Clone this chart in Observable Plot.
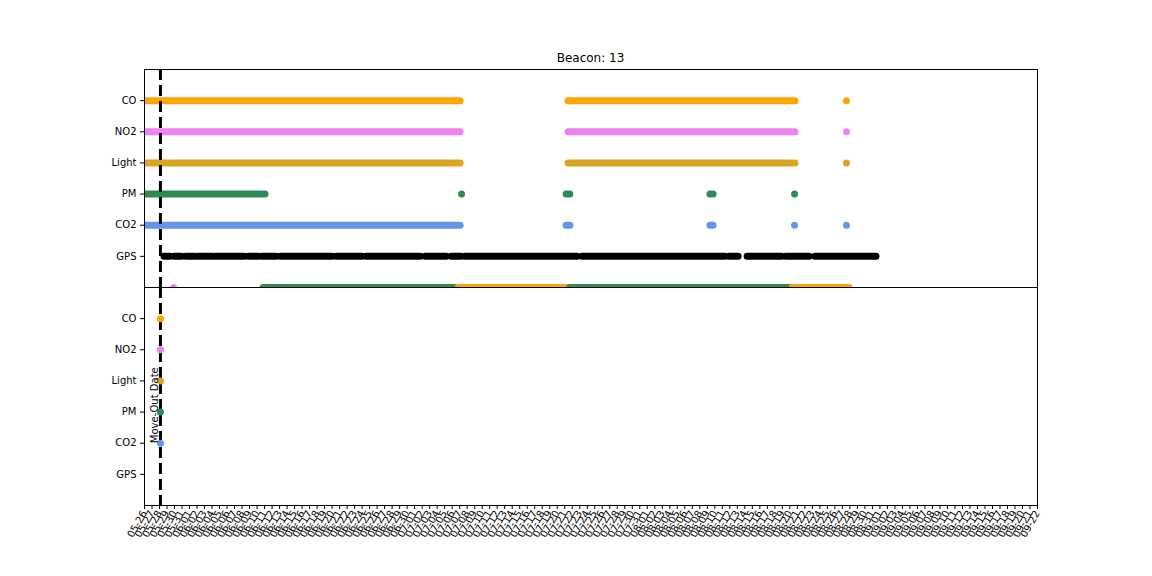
<!DOCTYPE html>
<html><head><meta charset="utf-8">
<script src="https://cdn.jsdelivr.net/npm/d3@7"></script>
<script src="https://cdn.jsdelivr.net/npm/@observablehq/plot@0.6"></script>
<style>
body{margin:0;background:#fff;font-family:"DejaVu Sans",sans-serif;}
#chart{width:1152px;height:576px;position:relative;background:#fff;}
#title{height:66px;position:relative;}
#title span{position:absolute;left:144px;width:893px;text-align:center;top:51px;font-size:12px;line-height:14px;color:#000;}
svg{display:block}
</style></head><body>
<div id="chart"><div id="title"><span>Beacon: 13</span></div></div>
<script>
// ---- categories ----
const sensors = ["CO", "NO2", "Light", "PM", "CO2", "GPS"];
const sensorColors = ["orange", "violet", "goldenrod", "seagreen", "cornflowerblue", "black"];
const startDate = "2020-05-26T00:00";
const endDate = "2020-09-22T00:00";
const moveOutDate = "2020-05-28T03:00";
const moveOutLabel = "Move-Out Date";

// ---- top panel: continuous runs of readings [start, end] and isolated readings ----
const coRuns = [["2020-05-26T00:00", "2020-07-07T03:00"], ["2020-07-21T12:00", "2020-08-20T18:00"]];
const coPoints = ["2020-08-27T13:00"];
const no2Runs = [["2020-05-26T00:00", "2020-07-07T03:00"], ["2020-07-21T12:00", "2020-08-20T18:00"]];
const no2Points = ["2020-08-27T13:00"];
const lightRuns = [["2020-05-26T00:00", "2020-07-07T03:00"], ["2020-07-21T12:00", "2020-08-20T18:00"]];
const lightPoints = ["2020-08-27T13:00"];
const pmRuns = [["2020-05-26T00:00", "2020-06-11T03:00"], ["2020-07-21T06:00", "2020-07-21T18:00"], ["2020-08-09T10:00", "2020-08-09T20:00"]];
const pmPoints = ["2020-07-07T06:00", "2020-08-20T15:00"];
const co2Runs = [["2020-05-26T00:00", "2020-07-07T03:00"], ["2020-07-21T06:00", "2020-07-21T18:00"], ["2020-08-09T10:00", "2020-08-09T20:00"]];
const co2Points = ["2020-08-20T15:00", "2020-08-27T13:00"];
const gpsRuns = [
  ["2020-05-28T16:00", "2020-05-29T11:00"], ["2020-05-30T00:00", "2020-05-31T01:00"],
  ["2020-05-31T14:00", "2020-06-01T19:00"], ["2020-06-02T05:00", "2020-06-04T01:00"],
  ["2020-06-04T11:00", "2020-06-08T08:00"], ["2020-06-08T21:00", "2020-06-10T05:00"],
  ["2020-06-10T17:00", "2020-06-12T14:00"], ["2020-06-13T03:00", "2020-06-20T01:00"],
  ["2020-06-20T14:00", "2020-06-24T01:00"], ["2020-06-24T14:00", "2020-07-01T19:00"],
  ["2020-07-02T11:00", "2020-07-05T06:00"], ["2020-07-05T22:00", "2020-07-07T06:00"],
  ["2020-07-07T19:00", "2020-07-22T17:00"], ["2020-07-23T09:00", "2020-08-11T10:00"],
  ["2020-08-11T23:00", "2020-08-13T04:00"], ["2020-08-14T09:00", "2020-08-19T00:00"],
  ["2020-08-19T13:00", "2020-08-22T15:00"], ["2020-08-23T10:00", "2020-08-31T13:00"]
];
const gpsPoints = [];
// unlabeled bottom row of the top panel (status), [start, end, colour]
const statusRuns = [
  ["2020-06-10T21:00", "2020-07-06T20:00", "seagreen"],
  ["2020-07-06T20:00", "2020-07-21T18:00", "orange"],
  ["2020-07-21T18:00", "2020-08-20T09:00", "seagreen"],
  ["2020-08-20T09:00", "2020-08-27T23:00", "orange"]
];
const statusPoints = [["2020-05-29T21:00", "violet"]];

// ---- bottom panel: readings at the move-out date ----
const moveOutSensors = ["CO", "NO2", "Light", "PM", "CO2"];

// ---- build tables ----
const parse = s => new Date(s + "Z");
const runsBySensor = [coRuns, no2Runs, lightRuns, pmRuns, co2Runs, gpsRuns];
const pointsBySensor = [coPoints, no2Points, lightPoints, pmPoints, co2Points, gpsPoints];
const runs = [];
const points = [];
sensors.forEach((s, i) => {
  runsBySensor[i].forEach(([a, b]) => runs.push({row: i, start: parse(a), end: parse(b), color: sensorColors[i]}));
  pointsBySensor[i].forEach(a => points.push({row: i, date: parse(a), color: sensorColors[i]}));
});
const STATUS_ROW = sensors.length;
statusRuns.forEach(([a, b, c]) => runs.push({row: STATUS_ROW, start: parse(a), end: parse(b), color: c}));
statusPoints.forEach(([a, c]) => points.push({row: STATUS_ROW, date: parse(a), color: c}));
const bottomPoints = moveOutSensors.map(s => ({row: sensors.indexOf(s), date: parse(moveOutDate), color: sensorColors[sensors.indexOf(s)]}));
const moveOut = [{date: parse(moveOutDate), row: sensors.indexOf("CO2"), label: moveOutLabel}];

const xDomain = [parse(startDate), parse(endDate)];
const tickDates = d3.utcDay.range(xDomain[0], d3.utcDay.offset(xDomain[1], 1));
const yTicks = sensors.map((s, i) => i);

const common = {
  width: 1152,
  marginLeft: 144,
  marginRight: 115,
  style: {fontFamily: "DejaVu Sans", fontSize: "10px", color: "#000", background: "#fff", overflow: "visible"},
  color: {type: "identity"},
  y: {domain: [STATUS_ROW, -1], ticks: yTicks, tickFormat: i => sensors[i], tickSize: 4, tickPadding: 4, label: null}
};
const dash = {stroke: "black", strokeWidth: 3, strokeDasharray: "11,5"};

const topPanel = Plot.plot({
  ...common,
  height: 221,
  marginTop: 3,
  marginBottom: 0,
  x: {type: "utc", domain: xDomain, axis: null},
  marks: [
    Plot.ruleY(runs, {y: "row", x1: "start", x2: "end", stroke: "color", strokeWidth: 7, strokeLinecap: "round", clip: true}),
    Plot.dot(points, {x: "date", y: "row", fill: "color", r: 3.5, clip: true}),
    Plot.ruleX(moveOut, {x: "date", ...dash}),
    Plot.frame({stroke: "black"})
  ]
});

const bottomPanel = Plot.plot({
  ...common,
  height: 289,
  marginTop: 0,
  marginBottom: 71,
  x: {type: "utc", domain: xDomain, ticks: tickDates, tickFormat: d3.utcFormat("%m-%d"), tickRotate: -60, tickSize: 4, tickPadding: 2, label: null},
  marks: [
    Plot.ruleX(moveOut, {x: "date", ...dash}),
    Plot.dot(bottomPoints, {x: "date", y: "row", fill: "color", r: 3.5}),
    Plot.text(moveOut, {x: "date", y: "row", text: "label", rotate: -90, textAnchor: "start", lineAnchor: "bottom", dx: -2, fontSize: 10, fill: "black"}),
    Plot.frame({stroke: "black"})
  ]
});

const chart = document.getElementById("chart");
chart.appendChild(topPanel);
chart.appendChild(bottomPanel);
</script>
</body></html>
